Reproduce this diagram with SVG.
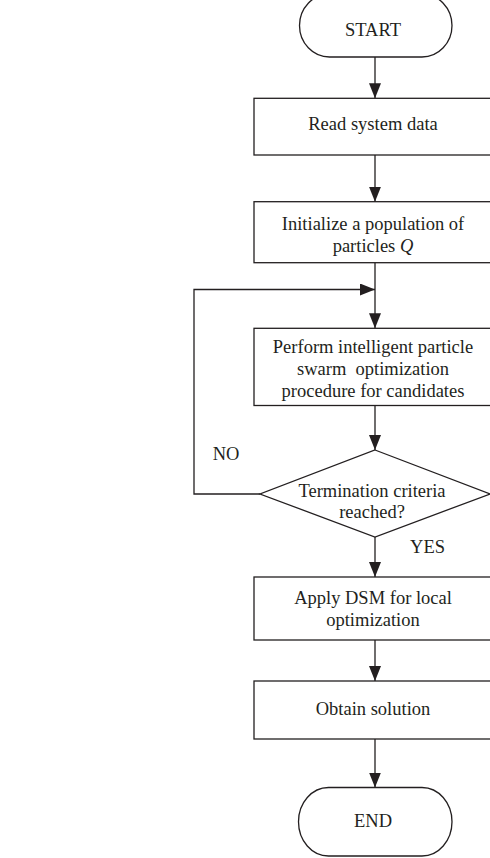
<svg xmlns="http://www.w3.org/2000/svg" width="490" height="858" viewBox="0 0 490 858">
<defs>
<marker id="ah" markerWidth="15" markerHeight="12" refX="15" refY="6" orient="auto" markerUnits="userSpaceOnUse">
<path d="M0,0 L15,6 L0,12 Z" fill="#231f20"/>
</marker>
<style>
.s{fill:#fff;stroke:#231f20;stroke-width:1.3}
.c{fill:none;stroke:#231f20;stroke-width:1.3}
text{font-family:"Liberation Serif","Times New Roman",serif;font-size:18.5px;fill:#231f20;text-anchor:middle}
</style>
</defs>
<rect width="490" height="858" fill="#fff"/>
<g id="connectors">
<line class="c" x1="375" y1="57" x2="375" y2="98.3" marker-end="url(#ah)"/>
<line class="c" x1="375" y1="155" x2="375" y2="201.7" marker-end="url(#ah)"/>
<line class="c" x1="375" y1="262.7" x2="375" y2="328.3" marker-end="url(#ah)"/>
<line class="c" x1="375" y1="405.5" x2="375" y2="450" marker-end="url(#ah)"/>
<polyline class="c" points="260,494 194,494 194,289.5 375,289.5" marker-end="url(#ah)"/>
<line class="c" x1="375" y1="537" x2="375" y2="577" marker-end="url(#ah)"/>
<line class="c" x1="375" y1="640" x2="375" y2="681" marker-end="url(#ah)"/>
<line class="c" x1="375" y1="739" x2="375" y2="787.5" marker-end="url(#ah)"/>
<text x="226" y="459.5">NO</text>
<text x="427.5" y="553">YES</text>
</g>
<g id="start">
<rect class="s" x="299.5" y="-6" width="152.5" height="63" rx="30" ry="31.5"/>
<text x="373" y="36">START</text>
</g>
<g id="read">
<rect class="s" x="254" y="98.3" width="242" height="56.7"/>
<text x="373" y="130">Read system data</text>
</g>
<g id="init">
<rect class="s" x="254" y="201.7" width="242" height="61"/>
<text x="373" y="229.5">Initialize a population of</text>
<text x="373" y="252">particles <tspan font-style="italic">Q</tspan></text>
</g>
<g id="pso">
<rect class="s" x="254" y="328.3" width="242" height="77.2"/>
<text x="373" y="353.3">Perform intelligent particle</text>
<text x="373" y="375" xml:space="preserve">swarm  optimization</text>
<text x="373" y="396.7">procedure for candidates</text>
</g>
<g id="decision">
<polygon class="s" points="375,450 490,494 375,537 260,494"/>
<text x="372" y="496.7">Termination criteria</text>
<text x="372" y="518.3">reached?</text>
</g>
<g id="dsm">
<rect class="s" x="254" y="577" width="242" height="63"/>
<text x="373" y="604">Apply DSM for local</text>
<text x="373" y="625.5">optimization</text>
</g>
<g id="obtain">
<rect class="s" x="254" y="681" width="242" height="58"/>
<text x="373" y="715">Obtain solution</text>
</g>
<g id="end">
<rect class="s" x="298.5" y="787.5" width="153.5" height="68.5" rx="30" ry="34.25"/>
<text x="373" y="827">END</text>
</g>
</svg>
